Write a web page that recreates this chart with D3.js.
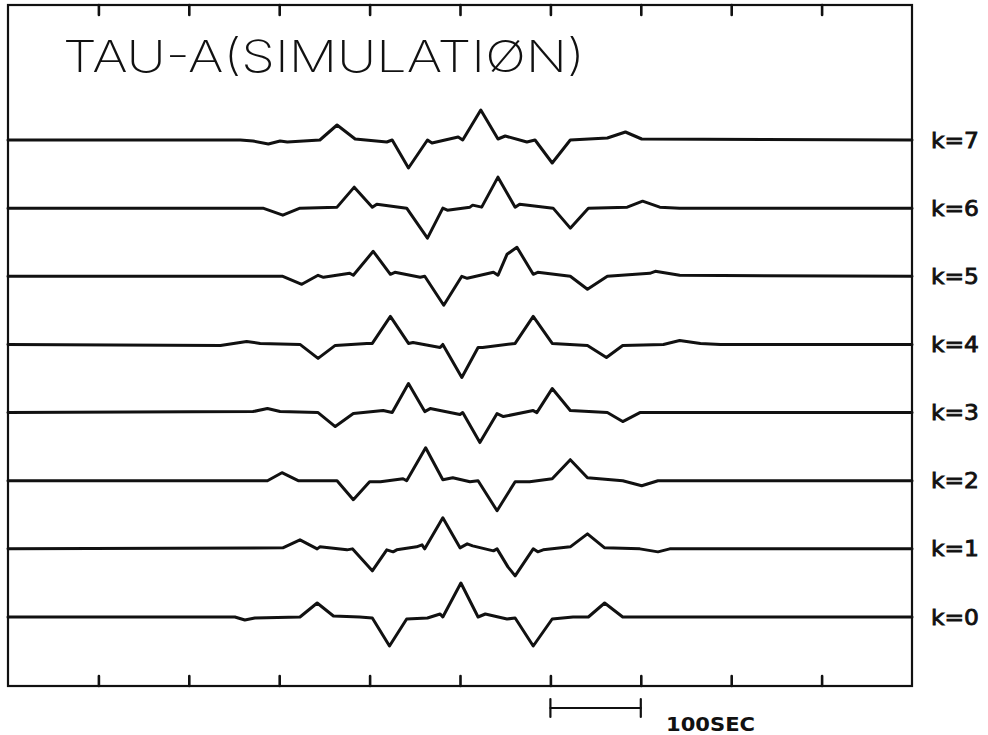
<!DOCTYPE html>
<html>
<head>
<meta charset="utf-8">
<script src="https://cdn.jsdelivr.net/npm/d3@7"></script>
<style>
  html, body { margin: 0; padding: 0; background: #fff; }
  svg { display: block; }
</style>
</head>
<body>
<svg id="chart" width="988" height="735"></svg>
<script>
// ---- data ----
const title = "TAU-A(SIMULATIØN)";
const traceLabels = ["k=0", "k=1", "k=2", "k=3", "k=4", "k=5", "k=6", "k=7"];
const tickValues = [100, 200, 300, 400, 500, 600, 700, 800, 900];
const scaleBar = [600, 700];
const scaleBarLabel = "100SEC";

// [time (sec), amplitude] breakpoints for each trace
const k0 = [[0,0],[251,0],[262,-3],[273,-1],[323,0],[342,14],[360,1],[389,0],[403,-1],[422,-29],[441,-2],[464,-1],[478,3],[481,0],[501,34],[520,0],[528,3],[552,-2],[561,-1],[581,-29],[602,-2],[625,0],[642,0],[660,14],[680,0],[1000,0]];
const k1 = [[0,0],[304,1],[323,9],[342,0],[345,2],[375,-1],[381,0],[403,-22],[419,-1],[426,-3],[430,-1],[452,2],[458,4],[461,0],[481,31],[500,1],[508,5],[514,3],[537,-2],[541,0],[553,-18],[561,-27],[581,0],[586,-3],[592,-1],[622,2],[641,15],[660,1],[699,0],[719,-3],[732,0],[1000,0]];
const k2 = [[0,0],[287,0],[303,8],[321,0],[364,0],[382,-19],[400,-1],[412,-1],[437,2],[441,0],[462,33],[481,1],[492,3],[511,-1],[520,0],[541,-30],[561,-1],[577,-1],[602,2],[622,21],[641,3],[680,0],[701,-5],[719,0],[1000,0]];
const k3 = [[0,0],[271,1],[287,4],[301,1],[343,0],[362,-14],[382,-1],[415,2],[425,0],[443,29],[461,1],[467,4],[500,-2],[503,0],[522,-30],[541,-1],[548,-4],[581,2],[585,0],[602,24],[622,2],[663,0],[680,-9],[699,0],[1000,0]];
const k4 = [[0,0],[235,-1],[264,3],[279,1],[323,0],[343,-14],[362,-1],[397,1],[403,1],[423,28],[443,1],[448,2],[478,-3],[481,0],[502,-33],[520,-3],[525,-3],[561,1],[581,28],[602,1],[641,-1],[662,-13],[680,-1],[725,0],[743,4],[766,1],[788,0],[1000,0]];
const k5 = [[0,0],[304,0],[325,-8],[343,1],[349,-1],[378,3],[382,1],[404,25],[423,2],[428,4],[456,-1],[461,0],[482,-29],[502,0],[508,-2],[537,4],[542,1],[552,22],[563,29],[581,2],[586,4],[622,0],[641,-13],[663,0],[710,3],[716,5],[743,1],[1000,0]];
const k6 = [[0,0],[282,0],[304,-7],[323,0],[364,1],[383,21],[403,1],[408,4],[441,0],[464,-30],[481,0],[486,-2],[511,1],[514,3],[524,1],[542,31],[561,1],[566,4],[603,0],[622,-20],[642,0],[685,1],[702,7],[721,1],[743,0],[1000,0]];
const k7 = [[0,0],[257,0],[271,-1],[288,-4],[301,-1],[309,-2],[345,0],[364,15],[384,1],[419,-2],[425,0],[443,-28],[464,0],[469,-3],[498,3],[503,0],[523,30],[542,1],[550,4],[574,-2],[583,0],[602,-23],[622,0],[663,2],[683,8],[701,1],[1000,0]];
const traces = [k0, k1, k2, k3, k4, k5, k6, k7];

// ---- layout ----
const svg = d3.select("#chart");
const frameL = 8, frameR = 912, frameT = 5, frameB = 686;
const ink = "#111";

const x = d3.scaleLinear().domain([0, 1000]).range([frameL, frameR]);
const yBase = d3.scalePoint().domain(traceLabels).range([617, 140]);
const amp = d3.scaleLinear().domain([-40, 40]).range([40, -40]);

// frame
svg.append("rect")
  .attr("x", frameL).attr("y", frameT)
  .attr("width", frameR - frameL).attr("height", frameB - frameT)
  .attr("fill", "none").attr("stroke", ink).attr("stroke-width", 2.2);

// top ticks (pointing down), bottom ticks (pointing up)
const topAxis = d3.axisBottom(x).tickValues(tickValues).tickSize(10).tickSizeOuter(0).tickFormat("");
const botAxis = d3.axisTop(x).tickValues(tickValues).tickSize(10).tickSizeOuter(0).tickFormat("");
[svg.append("g").attr("transform", `translate(0,${frameT})`).call(topAxis),
 svg.append("g").attr("transform", `translate(0,${frameB})`).call(botAxis)].forEach(g => {
  g.select(".domain").remove();
  g.selectAll(".tick line").attr("stroke", ink).attr("stroke-width", 2.6).attr("stroke-linecap", "round");
});

// traces
const line = d3.line().x(d => x(d[0])).y(d => amp(d[1]));
traces.forEach((tr, i) => {
  const lab = traceLabels[i];
  const g = svg.append("g").attr("transform", `translate(0,${yBase(lab)})`);
  g.append("path")
    .datum(tr)
    .attr("d", line)
    .attr("fill", "none")
    .attr("stroke", ink)
    .attr("stroke-width", 3)
    .attr("stroke-linejoin", "round")
    .attr("stroke-linecap", "round");
  svg.append("text")
    .attr("x", 931)
    .attr("y", yBase(lab))
    .attr("dy", "0.36em")
    .attr("font-family", "'DejaVu Sans', sans-serif")
    .attr("font-size", 21)
    .attr("stroke", ink)
    .attr("stroke-width", 0.8)
    .attr("textLength", 48)
    .attr("lengthAdjust", "spacingAndGlyphs")
    .attr("fill", ink)
    .text(lab);
});

// title
svg.append("text")
  .attr("x", 63)
  .attr("y", 72)
  .attr("font-family", "Inter, Lato, 'Open Sans', sans-serif")
  .attr("font-weight", 250)
  .attr("font-size", 44)
  .attr("textLength", 522)
  .attr("lengthAdjust", "spacingAndGlyphs")
  .attr("fill", ink)
  .text(title);

// scale bar
const sbY = 708;
const sb = svg.append("g").attr("stroke", ink).attr("stroke-width", 2.2).attr("stroke-linecap", "round");
sb.append("line").attr("x1", x(scaleBar[0])).attr("x2", x(scaleBar[1])).attr("y1", sbY).attr("y2", sbY);
scaleBar.forEach(v => {
  sb.append("line").attr("x1", x(v)).attr("x2", x(v)).attr("y1", sbY - 9).attr("y2", sbY + 9);
});
svg.append("text")
  .attr("x", 666)
  .attr("y", 731)
  .attr("font-family", "'DejaVu Sans', sans-serif")
  .attr("font-weight", "bold")
  .attr("font-size", 19)
  .attr("textLength", 89)
  .attr("lengthAdjust", "spacingAndGlyphs")
  .attr("fill", ink)
  .text(scaleBarLabel);
</script>
</body>
</html>
